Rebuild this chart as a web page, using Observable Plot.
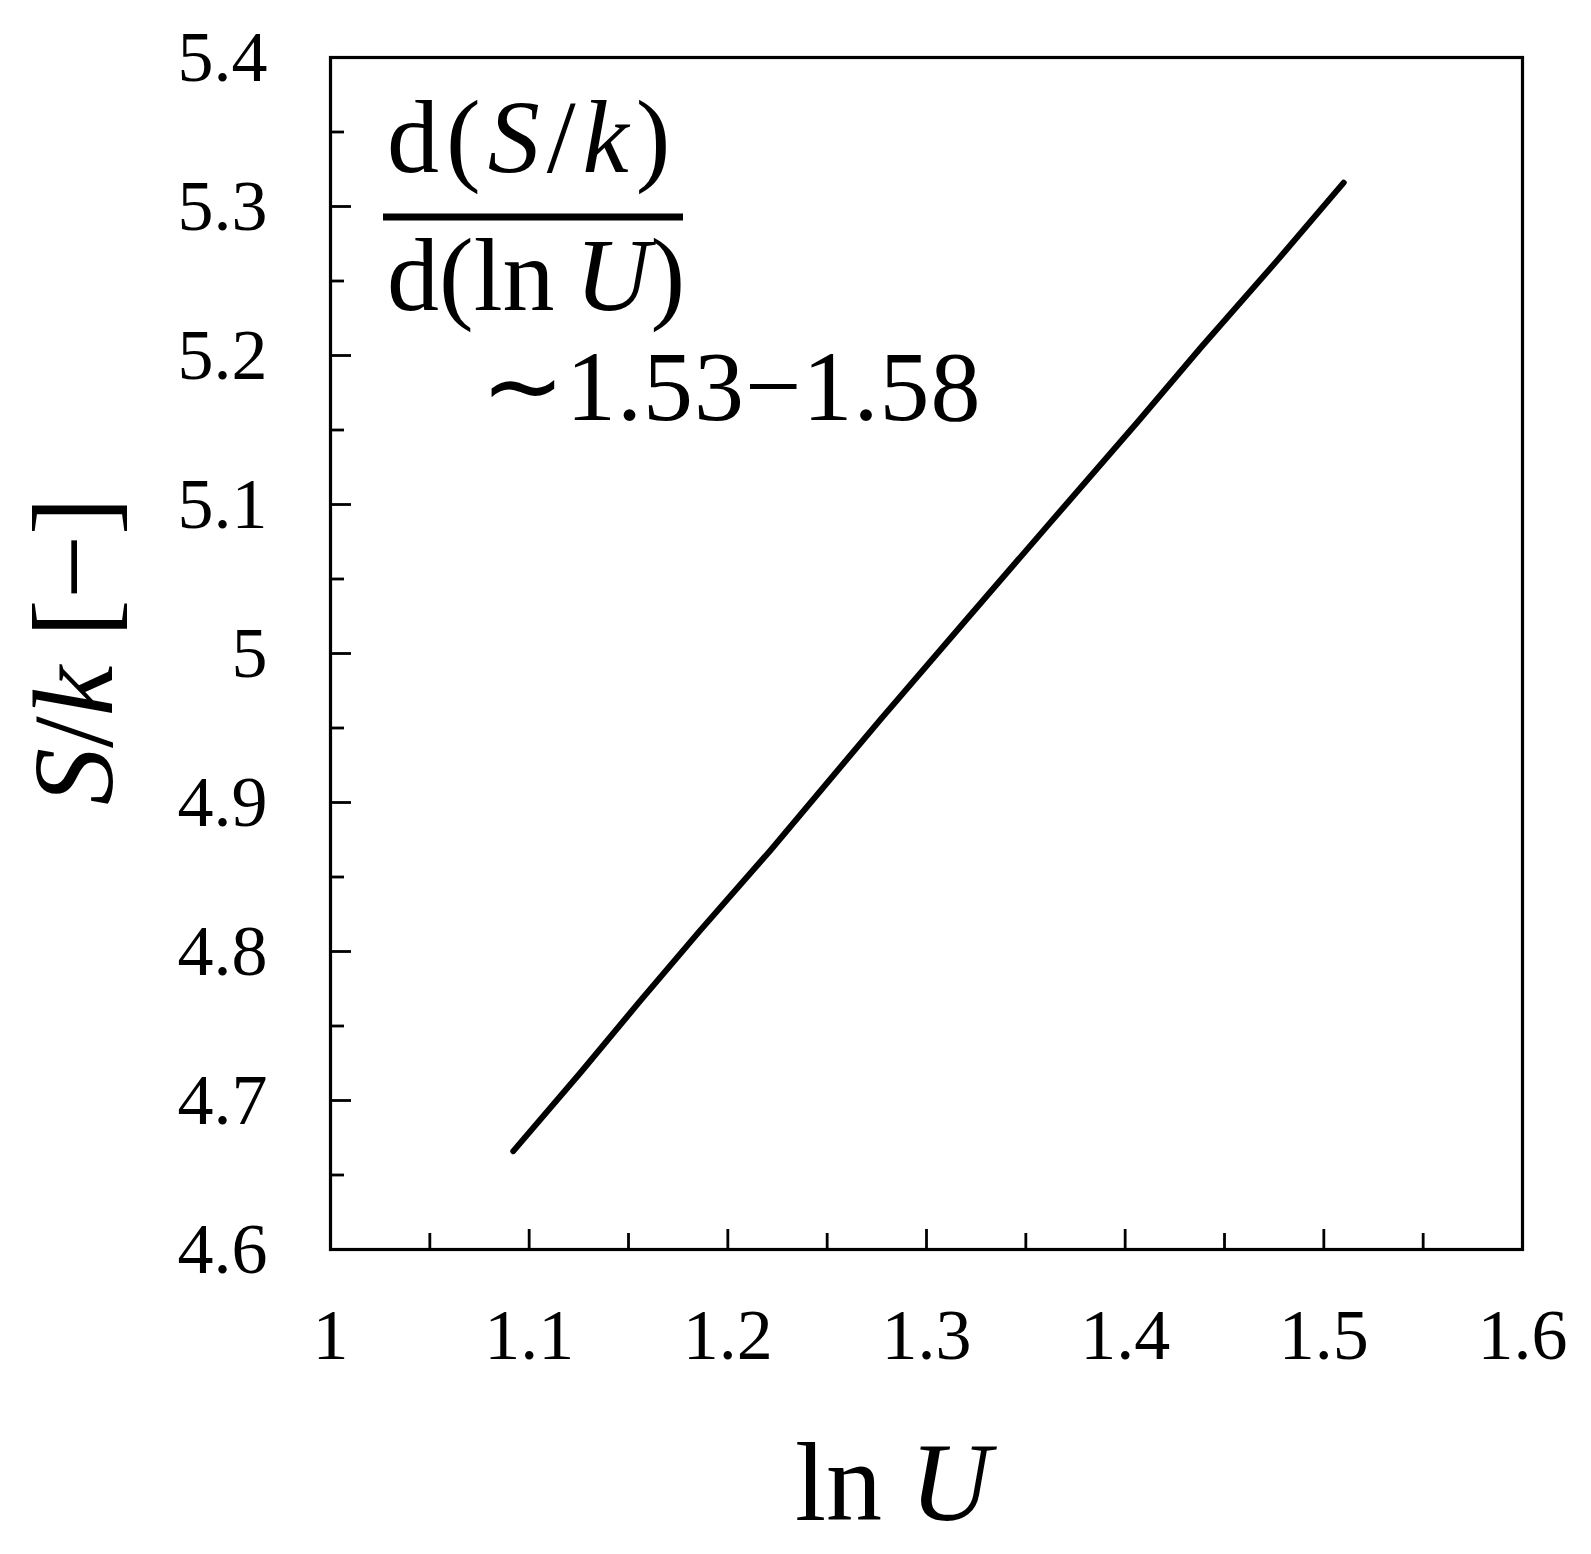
<!DOCTYPE html>
<html>
<head>
<meta charset="utf-8">
<script src="https://cdn.jsdelivr.net/npm/d3@7"></script>
<script src="https://cdn.jsdelivr.net/npm/@observablehq/plot@0.6"></script>
<style>
  html, body { margin: 0; padding: 0; background: #fff; }
  #chart svg { display: block; }
</style>
</head>
<body>
<div id="chart"></div>
<script>
// Data
const lnU = [1.092, 1.126, 1.156, 1.186, 1.2215, 1.277, 1.3196, 1.3624, 1.4067, 1.4379, 1.4767, 1.510];
const Sk  = [4.666, 4.719, 4.767, 4.814, 4.868, 4.956, 5.022, 5.088, 5.156, 5.205, 5.264, 5.316];

const xTicks = [1, 1.1, 1.2, 1.3, 1.4, 1.5, 1.6];
const xMinor = [1.05, 1.15, 1.25, 1.35, 1.45, 1.55];
const yTicks = [4.6, 4.7, 4.8, 4.9, 5, 5.1, 5.2, 5.3, 5.4];
const yMinor = [4.65, 4.75, 4.85, 4.95, 5.05, 5.15, 5.25, 5.35];

const annoLine1 = [["d(", false], ["S", true], ["/", false], ["k", true], [")", false]];
const annoLine2 = [["d(ln\u2009", false], ["U", true], [")", false]];
const annoLine3 = "\u223C1.53\u22121.58";
const yTitle = [["S", true], ["/", false], ["k", true], [" [\u2212]", false]];
const xTitle = [["ln ", false], ["U", true]];

const data = lnU.map((x, i) => ({x, y: Sk[i]}));

const W = 1591, H = 1554;
const mL = 330, mR = 69, mT = 57, mB = 305;
const plotW = W - mL - mR, plotH = H - mT - mB;
const serif = "'Liberation Serif', 'Times New Roman', serif";

function richText(g, parts, attrs) {
  const t = g.append("text");
  for (const [k, v] of Object.entries(attrs)) t.attr(k, v);
  for (const [s, it] of parts) {
    t.append("tspan").attr("font-style", it ? "italic" : "normal").text(s);
  }
  return t;
}

const annotations = (index, scales, values, dims) => {
  const g = d3.create("svg:g").attr("font-family", serif).attr("fill", "black").attr("text-anchor", "start");
  const L = dims.marginLeft, T = dims.marginTop;
  richText(g, annoLine1, {x: L + 57, y: T + 115, "font-size": 104, "letter-spacing": 7});
  g.append("line").attr("x1", L + 53).attr("x2", L + 353)
    .attr("y1", T + 160).attr("y2", T + 160)
    .attr("stroke", "black").attr("stroke-width", 7);
  richText(g, annoLine2, {x: L + 57, y: T + 253, "font-size": 104});
  g.append("text").attr("x", L + 151).attr("y", T + 363).attr("font-size", 100)
    .attr("letter-spacing", 1).text(annoLine3);
  // axis titles
  richText(g, yTitle, {transform: `translate(112, ${T + (dims.height - T - dims.marginBottom) / 2 - 2}) rotate(-90)`,
    "text-anchor": "middle", "font-size": 114});
  richText(g, xTitle, {x: 893, y: dims.height - dims.marginBottom + 271, "text-anchor": "middle", "font-size": 112});
  return g.node();
};

const fmt = d => `${+d.toFixed(2)}`;

const chart = Plot.plot({
  width: W,
  height: H,
  marginLeft: mL,
  marginRight: mR,
  marginTop: mT,
  marginBottom: mB,
  style: {fontFamily: serif, background: "white", color: "black", overflow: "visible"},
  x: {domain: [1, 1.6]},
  y: {domain: [4.6, 5.4]},
  marks: [
    Plot.axisX(xTicks, {tickSize: 0, tickPadding: 58, tickFormat: fmt, fontSize: 72, fill: "black", label: null}),
    Plot.axisY(yTicks, {tickSize: 0, tickPadding: 63, tickFormat: fmt, fontSize: 72, fill: "black", label: null}),
    Plot.tickX(xTicks, {x: d => d, insetTop: plotH - 20, stroke: "black", strokeWidth: 2.8}),
    Plot.tickX(xMinor, {x: d => d, insetTop: plotH - 16, stroke: "black", strokeWidth: 2.8}),
    Plot.tickY(yTicks, {y: d => d, insetRight: plotW - 21, stroke: "black", strokeWidth: 2.8}),
    Plot.tickY(yMinor, {y: d => d, insetRight: plotW - 14, stroke: "black", strokeWidth: 2.8}),
    Plot.frame({stroke: "black", strokeWidth: 3.2}),
    Plot.line(data, {x: "x", y: "y", stroke: "black", strokeWidth: 6, strokeLinecap: "round", strokeLinejoin: "round"}),
    annotations
  ]
});

document.getElementById("chart").appendChild(chart);
</script>
</body>
</html>
